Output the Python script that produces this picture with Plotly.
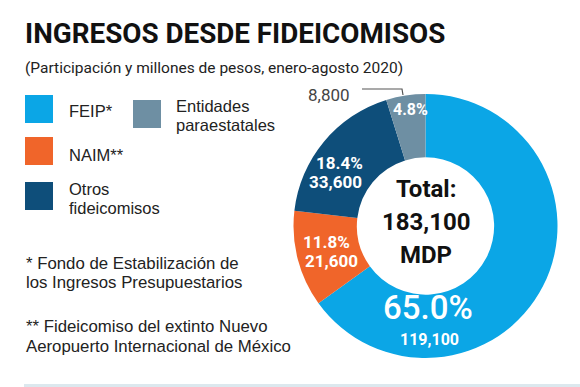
import plotly.graph_objects as go

# ---- data ----
categories = ["FEIP*", "NAIM**", "Otros fideicomisos", "Entidades paraestatales"]
legend_lines = [["FEIP*"], ["NAIM**"], ["Otros", "fideicomisos"], ["Entidades", "paraestatales"]]
values = [119100, 21600, 33600, 8800]
colors = ["#0BA6E6", "#F0652A", "#0E4E7A", "#6E8FA3"]
title_text = "INGRESOS DESDE FIDEICOMISOS"
subtitle_text = "(Participación y millones de pesos, enero-agosto 2020)"
footnote_lines = ["* Fondo de Estabilización de", "los Ingresos Presupuestarios",
                  "** Fideicomiso del extinto Nuevo", "Aeropuerto Internacional de México"]
center_label = "Total:"
unit_label = "MDP"

W, H = 580, 387
total = sum(values)
shares = [v / total * 100 for v in values]

NARROW = "Roboto, Liberation Sans, sans-serif"
SANS = "Liberation Sans, Arial, sans-serif"


def px(x):
    return x / W


def py(y):
    return 1 - y / H


def label(x, y, text, size, color, family, xanchor="center", weight="normal"):
    return dict(x=px(x), y=py(y), text=text, showarrow=False, xanchor=xanchor,
                yanchor="middle", align="left" if xanchor == "left" else "center",
                font=dict(family=family, size=size, color=color, weight=weight))


fig = go.Figure()
fig.add_trace(go.Pie(
    labels=categories, values=values, hole=0.52, sort=False,
    direction="clockwise", rotation=0,
    marker=dict(colors=colors, line=dict(width=0)),
    textinfo="none", hoverinfo="label+value+percent", showlegend=False,
    domain=dict(x=[px(293), px(558)], y=[py(358), py(94)]),
))

ann = []
ann.append(label(23, 33, title_text, 27.8, "#111111", NARROW, "left", "bold"))
ann.append(label(23, 68, subtitle_text, 15.5, "#222222", NARROW, "left"))

# legend (custom 2-column layout)
shapes = []
box_pos = [(25, 95), (25, 137), (25, 182), (133, 100)]
text_pos = [[(67, 111)], [(67, 155)], [(67, 189), (67, 208)], [(174, 106), (174, 125)]]
for (sx, sy), lines, poss, col in zip(box_pos, legend_lines, text_pos, colors):
    shapes.append(dict(type="rect", xref="paper", yref="paper",
                       x0=px(sx), x1=px(sx + 28), y0=py(sy + 28), y1=py(sy),
                       fillcolor=col, line=dict(width=0)))
    for t, (tx, ty) in zip(lines, poss):
        ann.append(label(tx, ty, t, 16.5, "#222222", SANS, "left"))

# footnotes
for t, ty in zip(footnote_lines, [263, 282, 326, 346]):
    ann.append(label(24, ty, t, 16.8, "#222222", SANS, "left"))

# center total
ann.append(label(426, 189, center_label, 24, "#111111", NARROW, weight="bold"))
ann.append(label(426, 222, f"{total:,}", 24, "#111111", NARROW, weight="bold"))
ann.append(label(426, 255, unit_label, 24, "#111111", NARROW, weight="bold"))

# slice labels
ann.append(label(428, 307, f"{shares[0]:.1f}%", 33, "white", NARROW, weight=500))
ann.append(label(429, 339, f"{values[0]:,}", 16, "white", NARROW, weight="bold"))
ann.append(label(326, 242, f"{shares[1]:.1f}%", 17, "white", NARROW, weight="bold"))
ann.append(label(331, 261, f"{values[1]:,}", 17, "white", NARROW, weight="bold"))
ann.append(label(340, 163, f"{shares[2]:.1f}%", 17, "white", NARROW, weight="bold"))
ann.append(label(335, 182, f"{values[2]:,}", 17, "white", NARROW, weight="bold"))
ann.append(label(410, 109, f"{shares[3]:.1f}%", 16, "white", NARROW, weight="bold"))
ann.append(label(352, 95, f"{values[3]:,}", 17, "#444444", NARROW, "right"))

# leader line for small slice
shapes.append(dict(type="path", xref="paper", yref="paper",
                   path=f"M {px(362)} {py(89)} L {px(402)} {py(89)} L {px(403)} {py(95)}",
                   line=dict(color="#555555", width=1.2)))
# bottom band
shapes.append(dict(type="rect", xref="paper", yref="paper",
                   x0=px(24), x1=1, y0=0, y1=py(384),
                   fillcolor="#DCE8EE", line=dict(width=0)))

fig.update_layout(
    width=W, height=H, margin=dict(l=0, r=0, t=0, b=0),
    paper_bgcolor="white", plot_bgcolor="white",
    annotations=ann, shapes=shapes,
)
fig.write_html("out.html", config={"displayModeBar": False},
               post_script="document.body.style.margin='0';")
